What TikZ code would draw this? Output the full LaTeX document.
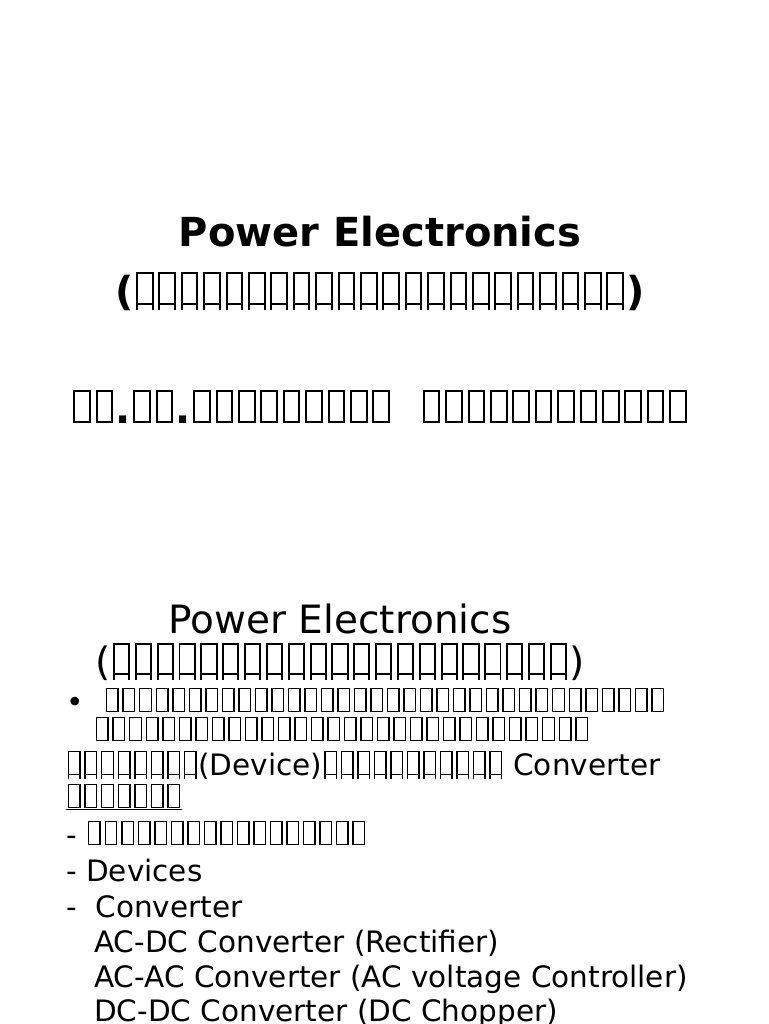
\documentclass[tikz,border=0pt]{standalone}
\usepackage{fontspec}
\setmainfont{DejaVu Sans}
\newcommand\tb{\kern.06em\vrule width .05em\vbox{\hrule height .05em width .34em \vskip .72em\hrule height .05em}\vrule width .05em\kern.06em}
\newcommand\tbn[1]{\foreach\i in{1,...,#1}{\tb}}
\begin{document}
\begin{tikzpicture}[x=1pt,y=-1pt,
  t/.style={inner sep=0pt,anchor=base west,font=\fontsize{29.5}{32}\selectfont},
  big/.style={inner sep=0pt,anchor=base,font=\fontsize{39}{42}\selectfont}]
\useasboundingbox (0,0) rectangle (768,1024);
\node[big,font=\fontsize{40}{44}\selectfont\bfseries] (t1) at (380,247) {Power Electronics};
\node[big,font=\fontsize{40}{44}\selectfont\bfseries] (t2) at (380,305) {(\tbn{22})};
\node[big,font=\fontsize{40}{44}\selectfont\bfseries] (au) at (380,423) {\tbn{2}.\tbn{2}.\tbn{9}\ \ \tbn{12}};
\node[big] (s1) at (340,633) {Power Electronics};
\node[big] (s2) at (340,675) {(\tbn{21})};
\node[t] (b0) at (66,712) {\textbullet};
\node[t] (l1) at (104,712) {\tbn{34}};
\node[t] (l2) at (94,741) {\tbn{30}};
\node[t] (l3) at (66,775) {\tbn{8}(Device)\tbn{11}\ Converter};
\node[t] (l4) at (66,808) {\underline{\tbn{7}}};
\node[t] (l5) at (66,845) {- \tbn{17}};
\node[t] (l6) at (66,881) {- Devices};
\node[t] (l7) at (66,917) {-\ \ Converter};
\node[t] (l8) at (94,952) {AC-DC Converter (Rectifier)};
\node[t] (l9) at (94,987) {AC-AC Converter (AC voltage Controller)};
\node[t] (l10) at (94,1021) {DC-DC Converter (DC Chopper)};
\end{tikzpicture}
\end{document}
